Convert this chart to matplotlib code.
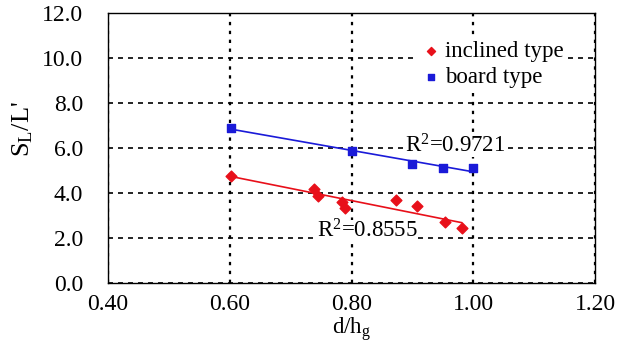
import numpy as np
import matplotlib
matplotlib.use("Agg")
import matplotlib.pyplot as plt

plt.rcParams['font.family'] = ['Liberation Serif', 'DejaVu Serif']
plt.rcParams['mathtext.fontset'] = 'custom'
plt.rcParams['mathtext.rm'] = 'Liberation Serif'
plt.rcParams['mathtext.it'] = 'Liberation Serif'

# data
incl_x = [0.602, 0.738, 0.745, 0.784, 0.789, 0.873, 0.908, 0.954, 0.981]
incl_y = [4.76, 4.20, 3.87, 3.60, 3.33, 3.69, 3.42, 2.71, 2.44]
board_x = [0.602, 0.80, 0.90, 0.95, 1.00]
board_y = [6.89, 5.87, 5.29, 5.11, 5.11]
xticks = [0.40, 0.60, 0.80, 1.00, 1.20]
yticks = [0.0, 2.0, 4.0, 6.0, 8.0, 10.0, 12.0]
r2_incl = "0.8555"
r2_board = "0.9721"

red = '#e8101a'
blue = '#1a1ad8'

fig = plt.figure(figsize=(6.29, 3.5), dpi=100)
ax = fig.add_axes([108 / 629, 1 - 283 / 350, 487 / 629, 270 / 350])

# trend lines
for xs, ys, c in [(incl_x, incl_y, red), (board_x, board_y, blue)]:
    k, b = np.polyfit(xs, ys, 1)
    xx = np.array([min(xs), max(xs)])
    ax.plot(xx, k * xx + b, color=c, lw=1.2, zorder=2)

ax.scatter(incl_x, incl_y, marker='D', s=30, color=red, zorder=3, label='inclined type')
ax.scatter(board_x, board_y, marker='s', s=34, color=blue, zorder=3, label='board type')

ax.set_xlim(0.4, 1.2)
ax.set_ylim(0, 12)
ax.set_xticks(xticks)
ax.set_yticks(yticks)
ax.set_xticklabels([f'{v:.2f}' for v in xticks])
ax.set_yticklabels([f'{v:.1f}' for v in yticks])
ax.tick_params(length=0, labelsize=17)
ax.tick_params(axis='y', pad=18)
ax.tick_params(axis='x', pad=8)

ax.xaxis.grid(True, color='black', linestyle=(0, (1.5, 2.5)), lw=1.6)
ax.yaxis.grid(True, color='black', linestyle=(0, (3, 3)), lw=1.2)
ax.set_axisbelow(True)
for s in ax.spines.values():
    s.set_linewidth(1.0)

ax.set_xlabel('d/h$_\\mathrm{g}$', fontsize=16.5, labelpad=0)
ax.set_ylabel("S$_\\mathrm{L}$/L'", fontsize=19)
ax.yaxis.set_label_coords(-0.15, 0.57)

box = dict(facecolor='white', edgecolor='none', pad=0)
ax.text(0.888, 6.1, 'R$^2$=' + r2_board, fontsize=16.5, ha='left', va='center', bbox=box, zorder=2.5)
ax.text(0.743, 2.3, 'R$^2$=' + r2_incl, fontsize=16.5, ha='left', va='center', bbox=box, zorder=2.5)

leg = ax.legend(loc='center left', bbox_to_anchor=(0.609, 0.81), frameon=True,
                fontsize=16.5, handletextpad=0.1, borderpad=0.15, labelspacing=0.2,
                markerscale=0.75, handlelength=1.0)
leg.get_frame().set_edgecolor('none')
leg.get_frame().set_facecolor('white')
leg.get_frame().set_alpha(1)
leg.get_frame().set_boxstyle('square', pad=0)

fig.savefig('out.png', dpi=100)
